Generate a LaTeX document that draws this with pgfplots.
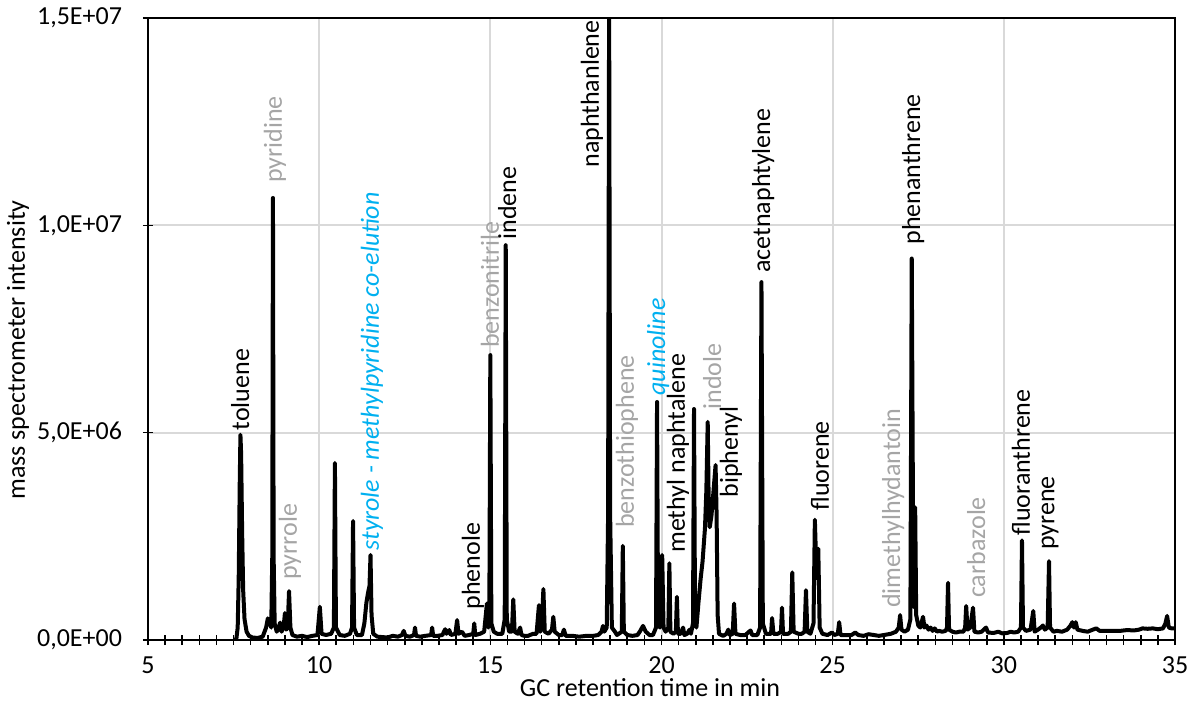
\documentclass[border=0pt]{standalone}
\usepackage{pgfplots}
\pgfplotsset{compat=1.18}
\usepackage{fontspec}
\setmainfont{Carlito}
\definecolor{lgray}{HTML}{A5A5A5}
\definecolor{lblue}{HTML}{00B0F0}
\tikzset{lbl/.style={rotate=90, inner sep=1pt, font=\fontsize{13}{15.6}\selectfont}}
\begin{document}
\begin{tikzpicture}
\useasboundingbox (-74pt,-31pt) rectangle (523pt,320pt);
\begin{axis}[
  at={(0,0)}, anchor=south west,
  scale only axis, width=513.5pt, height=311pt,
  xmin=5, xmax=35, ymin=0, ymax=15,
  xtick={5,10,...,35}, minor x tick num=9,
  ytick={0,5,10,15},
  yticklabels={{0,0E+00},{5,0E+06},{1,0E+07},{1,5E+07}},
  /pgf/number format/assume math mode=true,
  tick align=center, tick pos=left,
  major tick length=5pt, minor tick length=5pt,
  tick style={black, line width=0.8pt},
  xmajorgrids, ymajorgrids,
  major grid style={line width=1pt, color=gray!30},
  axis line style={black, line width=1pt},
  every tick label/.append style={font=\fontsize{13}{15.6}\selectfont},
  yticklabel style={xshift=-7pt},
  xticklabel style={yshift=-2.5pt},
  label style={font=\fontsize{13}{15.6}\selectfont},
  xlabel={GC retention time in min},
  ylabel={mass spectrometer intensity},
  xlabel style={at={(axis description cs:0.4888,-0.0772)}, anchor=center},
  ylabel style={at={(axis description cs:-0.1266,0.4662)}, anchor=center},
  clip mode=individual,
]
\addplot[black, line width=2pt, line join=round] table {
7.50 0
7.58 0.02
7.62 0.3
7.65 1.5
7.68 3.8
7.70 4.95
7.72 4.5
7.75 2.6
7.78 1.2
7.82 0.5
7.88 0.2
7.95 0.1
8.05 0.06
8.20 0.05
8.35 0.08
8.45 0.3
8.50 0.52
8.55 0.45
8.60 0.3
8.63 2.0
8.65 10.66
8.67 2.0
8.70 0.4
8.76 0.2
8.82 0.3
8.86 0.42
8.90 0.2
8.96 0.3
9.00 0.65
9.04 0.25
9.08 0.3
9.12 1.18
9.16 0.3
9.22 0.12
9.35 0.08
9.5 0.1
9.65 0.07
9.8 0.1
9.95 0.12
10.02 0.8
10.07 0.15
10.2 0.12
10.35 0.15
10.43 0.3
10.46 4.27
10.49 0.3
10.6 0.12
10.75 0.1
10.9 0.15
10.96 0.3
10.99 2.87
11.02 0.3
11.1 0.12
11.25 0.12
11.32 0.4
11.38 0.9
11.43 1.15
11.47 1.3
11.5 2.05
11.53 0.6
11.58 0.15
11.7 0.08
11.85 0.07
12.0 0.06
12.15 0.1
12.3 0.08
12.42 0.12
12.47 0.22
12.52 0.1
12.65 0.08
12.77 0.12
12.8 0.3
12.83 0.1
12.95 0.08
13.1 0.1
13.27 0.12
13.3 0.3
13.33 0.1
13.45 0.1
13.6 0.12
13.68 0.26
13.72 0.15
13.8 0.24
13.85 0.12
13.98 0.15
14.03 0.48
14.07 0.15
14.17 0.2
14.25 0.1
14.38 0.12
14.5 0.15
14.53 0.4
14.56 0.12
14.7 0.15
14.82 0.2
14.9 0.88
14.94 0.3
14.97 0.4
15.0 6.87
15.03 0.4
15.1 0.2
15.2 0.15
15.35 0.15
15.42 0.5
15.45 9.52
15.48 0.5
15.55 0.2
15.63 0.2
15.67 0.98
15.71 0.2
15.8 0.15
15.87 0.3
15.91 0.12
16.0 0.1
16.1 0.1
16.25 0.15
16.35 0.15
16.42 0.84
16.46 0.2
16.5 0.3
16.55 1.23
16.59 0.2
16.7 0.15
16.8 0.25
16.84 0.56
16.88 0.2
17.0 0.12
17.1 0.12
17.15 0.25
17.2 0.1
17.4 0.1
17.6 0.08
17.8 0.1
18.0 0.1
18.15 0.12
18.25 0.2
18.29 0.34
18.33 0.2
18.4 0.3
18.44 3.0
18.47 15.5
18.50 3.0
18.55 0.3
18.64 0.2
18.7 0.12
18.84 0.2
18.87 2.27
18.9 0.2
19.0 0.12
19.15 0.1
19.3 0.12
19.38 0.22
19.46 0.34
19.54 0.2
19.65 0.12
19.75 0.12
19.84 0.3
19.87 5.74
19.9 0.4
19.95 0.3
20.02 2.05
20.06 0.3
20.12 0.2
20.2 0.3
20.23 1.85
20.26 0.2
20.35 0.15
20.42 0.2
20.45 1.04
20.48 0.15
20.56 0.15
20.63 0.3
20.67 0.12
20.75 0.15
20.82 0.25
20.86 0.15
20.92 0.4
20.95 5.57
20.98 0.5
21.02 0.3
21.08 0.9
21.14 1.45
21.2 1.9
21.27 2.7
21.31 3.6
21.35 5.26
21.38 3.2
21.41 2.72
21.46 3.0
21.52 3.6
21.58 4.22
21.61 3.0
21.64 0.6
21.68 0.15
21.8 0.1
21.9 0.15
21.95 0.25
22.0 0.12
22.08 0.15
22.12 0.88
22.16 0.15
22.3 0.12
22.45 0.12
22.6 0.23
22.65 0.12
22.8 0.12
22.88 0.3
22.92 8.63
22.96 0.4
23.05 0.15
23.2 0.15
23.23 0.53
23.27 0.15
23.4 0.15
23.49 0.2
23.52 0.78
23.55 0.15
23.7 0.15
23.78 0.2
23.82 1.63
23.86 0.2
24.0 0.15
24.1 0.15
24.18 0.2
24.22 1.2
24.26 0.2
24.35 0.15
24.44 0.4
24.48 2.9
24.53 1.5
24.58 2.2
24.62 0.3
24.7 0.15
24.85 0.12
24.98 0.18
25.05 0.12
25.15 0.15
25.19 0.43
25.23 0.12
25.4 0.12
25.55 0.12
25.66 0.18
25.75 0.12
25.9 0.1
26.05 0.14
26.2 0.12
26.35 0.1
26.5 0.12
26.7 0.15
26.85 0.2
26.93 0.3
26.97 0.6
27.01 0.25
27.1 0.2
27.2 0.25
27.27 0.5
27.31 9.2
27.36 0.8
27.39 1.5
27.41 3.2
27.44 0.6
27.5 0.35
27.56 0.3
27.64 0.56
27.68 0.3
27.74 0.35
27.8 0.25
27.86 0.3
27.92 0.22
27.98 0.28
28.05 0.2
28.1 0.22
28.2 0.2
28.3 0.22
28.34 0.3
28.37 1.38
28.4 0.25
28.5 0.2
28.6 0.18
28.7 0.2
28.82 0.2
28.87 0.3
28.9 0.82
28.94 0.25
29.02 0.3
29.1 0.78
29.14 0.2
29.25 0.18
29.35 0.2
29.48 0.3
29.54 0.18
29.7 0.17
29.84 0.2
29.95 0.16
30.1 0.17
30.2 0.2
30.3 0.18
30.42 0.2
30.5 0.3
30.53 2.4
30.56 0.3
30.65 0.22
30.78 0.25
30.86 0.7
30.9 0.2
31.0 0.25
31.08 0.3
31.14 0.35
31.2 0.25
31.28 0.3
31.32 1.9
31.35 0.3
31.45 0.2
31.55 0.22
31.7 0.2
31.85 0.25
31.95 0.35
32.0 0.43
32.05 0.3
32.1 0.43
32.15 0.25
32.3 0.22
32.45 0.2
32.6 0.25
32.7 0.28
32.8 0.22
33.0 0.22
33.2 0.22
33.4 0.22
33.6 0.24
33.8 0.23
33.95 0.25
34.05 0.28
34.2 0.27
34.35 0.28
34.5 0.26
34.65 0.28
34.72 0.4
34.77 0.58
34.82 0.3
34.9 0.28
35.0 0.28
};
\node[lbl, anchor=west] at (axis cs:7.69,5.0) {toluene};
\node[lbl, anchor=west, text=lgray] at (axis cs:8.71,10.97) {pyridine};
\node[lbl, anchor=west, text=lgray] at (axis cs:9.15,1.40) {pyrrole};
\node[lbl, anchor=west, text=lblue, font=\fontsize{13}{15.6}\selectfont\itshape] at (axis cs:11.54,2.10) {styrole - methylpyridine co-elution};
\node[lbl, anchor=west] at (axis cs:14.49,0.68) {phenole};
\node[lbl, anchor=west, text=lgray] at (axis cs:14.99,6.99) {benzonitrile};
\node[lbl, anchor=west] at (axis cs:15.49,9.6) {indene};
\node[lbl, anchor=east] at (axis cs:17.97,15) {naphthanlene};
\node[lbl, anchor=west, text=lgray] at (axis cs:18.99,2.65) {benzothiophene};
\node[lbl, anchor=west, text=lblue, font=\fontsize{13}{15.6}\selectfont\itshape] at (axis cs:19.9,5.84) {quinoline};
\node[lbl, anchor=west] at (axis cs:20.48,2.05) {methyl naphtalene};
\node[lbl, anchor=west, text=lgray] at (axis cs:21.48,5.5) {indole};
\node[lbl, anchor=west] at (axis cs:22.03,3.38) {biphenyl};
\node[lbl, anchor=west] at (axis cs:22.97,8.8) {acetnaphtylene};
\node[lbl, anchor=west] at (axis cs:24.63,3.06) {fluorene};
\node[lbl, anchor=west, text=lgray] at (axis cs:26.77,0.72) {dimethylhydantoin};
\node[lbl, anchor=west] at (axis cs:27.35,9.48) {phenanthrene};
\node[lbl, anchor=west, text=lgray] at (axis cs:29.19,0.96) {carbazole};
\node[lbl, anchor=west] at (axis cs:30.5,2.46) {fluoranthrene};
\node[lbl, anchor=west] at (axis cs:31.35,2.12) {pyrene};
\end{axis}
\end{tikzpicture}
\end{document}
